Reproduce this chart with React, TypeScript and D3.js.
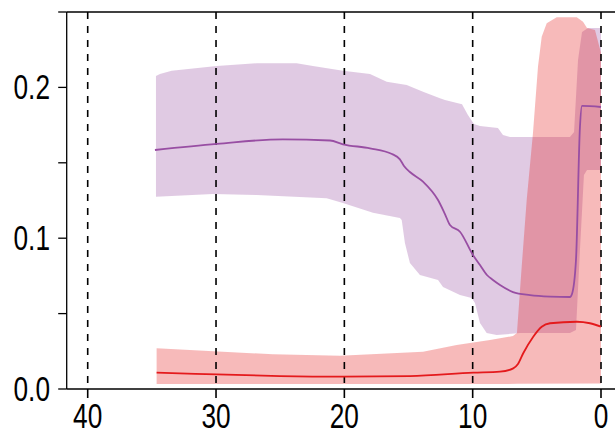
import React from "react";
import * as d3 from "d3";

// x = lag (reversed axis), y = value
const xTicks = [40, 30, 20, 10, 0];
const yTicks = [0, 0.05, 0.1, 0.15, 0.2, 0.25];
const yLabels = [0, 0.1, 0.2];

const purpleMean: [number, number][] = [
  [34.76, 0.1585], [29.93, 0.1625], [24.79, 0.1656], [21.12, 0.1648], [20.11, 0.1623],
  [18.0, 0.1596], [16.29, 0.1558], [15.67, 0.1523], [15.35, 0.1479], [14.89, 0.1439],
  [13.87, 0.1375], [12.7, 0.1253], [12.16, 0.116], [11.77, 0.1088], [10.99, 0.1043],
  [9.98, 0.0889], [9.43, 0.0822], [8.89, 0.0756], [8.42, 0.0723], [7.87, 0.069],
  [6.86, 0.0643], [5.53, 0.0623], [3.97, 0.0613], [2.42, 0.061], [2.26, 0.063],
  [1.95, 0.0855], [1.64, 0.1737], [1.48, 0.1877], [0, 0.187],
];
const purpleUpper: [number, number][] = [
  [34.68, 0.2076], [34.37, 0.2089], [33.46, 0.2111], [29.95, 0.2142], [26.84, 0.216],
  [23.72, 0.216], [22.45, 0.2142], [20.11, 0.2111], [18.0, 0.2089], [16.7, 0.2038],
  [15.14, 0.2016], [13.87, 0.1971], [12.55, 0.1928], [12.16, 0.1916], [10.83, 0.1889],
  [10.37, 0.1817], [9.9, 0.1757], [9.43, 0.1744], [8.03, 0.1731], [7.64, 0.1684],
  [7.09, 0.1671], [2.42, 0.1671], [2.1, 0.1704], [1.79, 0.2182], [1.48, 0.2367],
  [1.01, 0.2394], [0, 0.2394],
];
const purpleLower: [number, number][] = [
  [34.68, 0.1275], [30.24, 0.1293], [26.84, 0.1286], [21.38, 0.1265], [20.11, 0.1233],
  [17.77, 0.1169], [15.67, 0.1134], [15.53, 0.1121], [15.28, 0.0968], [14.89, 0.0836],
  [14.11, 0.0756], [12.7, 0.0723], [12.31, 0.0676], [10.99, 0.0623], [10.08, 0.0603],
  [9.82, 0.057], [9.43, 0.0438], [8.91, 0.0371], [8.13, 0.0358], [6.31, 0.0371],
  [2.42, 0.0371], [1.95, 0.0391], [1.64, 0.0922], [1.33, 0.1419], [1.09, 0.1452],
  [0, 0.1452],
];

const redMean: [number, number][] = [
  [34.63, 0.0108], [29.95, 0.0097], [25.02, 0.0086], [20.09, 0.0082], [14.89, 0.0086],
  [9.95, 0.0108], [7.87, 0.0115], [6.84, 0.0137], [6.47, 0.0166], [6.06, 0.0237],
  [5.28, 0.0347], [4.62, 0.0413], [3.97, 0.0436], [1.89, 0.0446], [0.86, 0.0436],
  [0, 0.0414],
];
const redUpper: [number, number][] = [
  [34.63, 0.027], [25.57, 0.023], [20.34, 0.0221], [13.87, 0.0247], [11.25, 0.0292],
  [8.65, 0.0325], [6.86, 0.0351], [6.55, 0.0371], [6.18, 0.0811], [5.79, 0.1253],
  [5.3, 0.1698], [4.91, 0.2137], [4.62, 0.2336], [4.23, 0.2425], [3.45, 0.2465],
  [1.89, 0.2465], [1.4, 0.2436], [1.09, 0.2394], [0.47, 0.238], [0, 0.2228],
];
const redLower: [number, number][] = [
  [34.63, 0.0033], [25.0, 0.0033], [15.0, 0.0033], [6.5, 0.0034], [0, 0.0036],
];

const W = 615;
const H = 432;
const PURPLE = "#984EA3";
const RED = "#E41A1C";

export default function App() {
  const x = d3.scaleLinear().domain([40, 0]).range([87.7, 601]);
  const y = d3.scaleLinear().domain([0, 0.25]).range([389, 12]);
  const left = 66.7;
  const top = 12;
  const bottom = 389;

  const line = d3
    .line<[number, number]>()
    .x((d) => x(d[0]))
    .y((d) => y(d[1]))
    .curve(d3.curveMonotoneX);
  const lin = d3
    .line<[number, number]>()
    .x((d) => x(d[0]))
    .y((d) => y(d[1]));
  const band = (up: [number, number][], lo: [number, number][]) =>
    lin(up)! + "L" + lin([...lo].reverse())!.slice(1) + "Z";

  const font = "'Liberation Sans', Arial, Helvetica, sans-serif";

  return (
    <svg
      width={W}
      height={H}
      style={{ position: "absolute", left: 0, top: 0, background: "#fff" }}
    >
      <rect x={0} y={0} width={W} height={H} fill="#fff" />
      <path d={band(purpleUpper, purpleLower)} fill={PURPLE} fillOpacity={0.3} />
      <path d={band(redUpper, redLower)} fill={RED} fillOpacity={0.3} />
      {xTicks.map((t) => (
        <line
          key={"g" + t}
          x1={x(t)}
          x2={x(t)}
          y1={top}
          y2={bottom}
          stroke="#000"
          strokeWidth={1.6}
          strokeDasharray="7,7"
        />
      ))}
      <path d={line(purpleMean)!} fill="none" stroke={PURPLE} strokeWidth={1.8} />
      <path d={line(redMean)!} fill="none" stroke={RED} strokeWidth={1.8} />
      {/* frame */}
      <line x1={left} x2={W} y1={top} y2={top} stroke="#000" strokeWidth={1.3} />
      <line x1={left} x2={W} y1={bottom} y2={bottom} stroke="#000" strokeWidth={1.3} />
      <line x1={left} x2={left} y1={top} y2={bottom} stroke="#000" strokeWidth={1.3} />
      {yTicks.map((t) => (
        <line key={"yt" + t} x1={left - 8.5} x2={left} y1={y(t)} y2={y(t)} stroke="#000" strokeWidth={1.3} />
      ))}
      {xTicks.map((t) => (
        <line key={"xt" + t} x1={x(t)} x2={x(t)} y1={bottom} y2={bottom + 9} stroke="#000" strokeWidth={1.6} />
      ))}
      {yLabels.map((t) => (
        <text
          key={"yl" + t}
          transform={`translate(${50},${y(t) + 12}) scale(0.75,1)`}
          textAnchor="end"
          fontFamily={font}
          fontSize={35}
          fill="#000"
        >
          {t.toFixed(1)}
        </text>
      ))}
      {xTicks.map((t) => (
        <text
          key={"xl" + t}
          transform={`translate(${x(t)},${428}) scale(0.75,1)`}
          textAnchor="middle"
          fontFamily={font}
          fontSize={35}
          fill="#000"
        >
          {String(t)}
        </text>
      ))}
    </svg>
  );
}
